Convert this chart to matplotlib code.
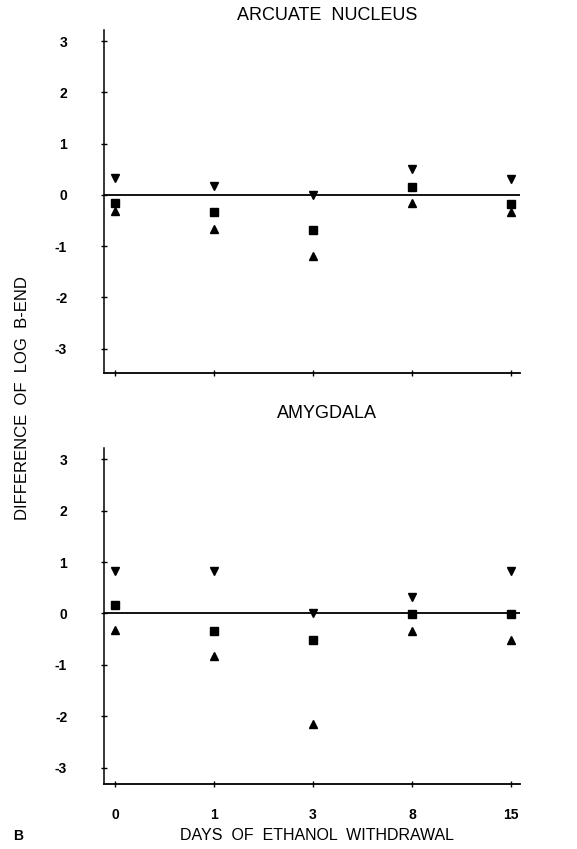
import matplotlib
matplotlib.use("Agg")
import matplotlib.pyplot as plt

plt.rcParams['font.family'] = ['Liberation Sans', 'DejaVu Sans']

days = ["0", "1", "3", "8", "15"]
y_ticks = [-3, -2, -1, 0, 1, 2, 3]

# Arcuate nucleus
arc_down = [0.33, 0.18, 0.0, 0.50, 0.31]
arc_square = [-0.16, -0.34, -0.68, 0.16, -0.18]
arc_up = [-0.31, -0.67, -1.19, -0.16, -0.33]

# Amygdala
amy_down = [0.83, 0.83, 0.0, 0.32, 0.83]
amy_square = [0.17, -0.34, -0.51, -0.02, -0.02]
amy_up = [-0.33, -0.83, -2.15, -0.34, -0.51]

fig = plt.figure(figsize=(5.77, 8.49), dpi=100)

def make_panel(rect, ylim, down, square, up, show_x):
    ax = fig.add_axes(rect)
    xs = list(range(len(days)))
    ax.axhline(0, color='black', lw=1.3, zorder=1)
    ax.plot(xs, down, linestyle='none', marker='v', color='black', markersize=6, zorder=3)
    ax.plot(xs, square, linestyle='none', marker='s', color='black', markersize=5.5, zorder=3)
    ax.plot(xs, up, linestyle='none', marker='^', color='black', markersize=6, zorder=3)
    ax.set_xlim(-0.111, 4.09)
    ax.set_ylim(*ylim)
    ax.set_xticks(xs)
    ax.set_yticks(y_ticks)
    ax.set_yticklabels([str(v) for v in y_ticks], fontweight='bold', fontsize=10)
    if show_x:
        ax.set_xticklabels(days, fontweight='bold', fontsize=10)
    else:
        ax.set_xticklabels([])
    for s in ['top', 'right']:
        ax.spines[s].set_visible(False)
    ax.spines['left'].set_linewidth(1.1)
    ax.spines['bottom'].set_linewidth(1.3)
    ax.tick_params(axis='y', direction='inout', length=5, width=1, pad=24)
    ax.tick_params(axis='x', direction='inout', length=4, width=1, pad=15)
    return ax

ax1 = make_panel([104/577, 1-372.7/849, 416/577, 342.7/849], (-3.47, 3.22),
                 arc_down, arc_square, arc_up, False)
ax2 = make_panel([104/577, 1-784/849, 416/577, 336/849], (-3.32, 3.22),
                 amy_down, amy_square, amy_up, True)

fig.text(327/577, 1-16/849, "ARCUATE  NUCLEUS", ha='center', va='center', fontsize=13)
fig.text(327/577, 1-413/849, "AMYGDALA", ha='center', va='center', fontsize=13)
fig.text(23/577, 1-398/849, "DIFFERENCE  OF  LOG  B-END", rotation=90, ha='center', va='center', fontsize=12)
fig.text(317/577, 1-836/849, "DAYS  OF  ETHANOL  WITHDRAWAL", ha='center', va='center', fontsize=11.5)
fig.text(18/577, 1-836/849, "B", ha='center', va='center', fontsize=10, fontweight='bold')

fig.savefig("out.png", dpi=100)
